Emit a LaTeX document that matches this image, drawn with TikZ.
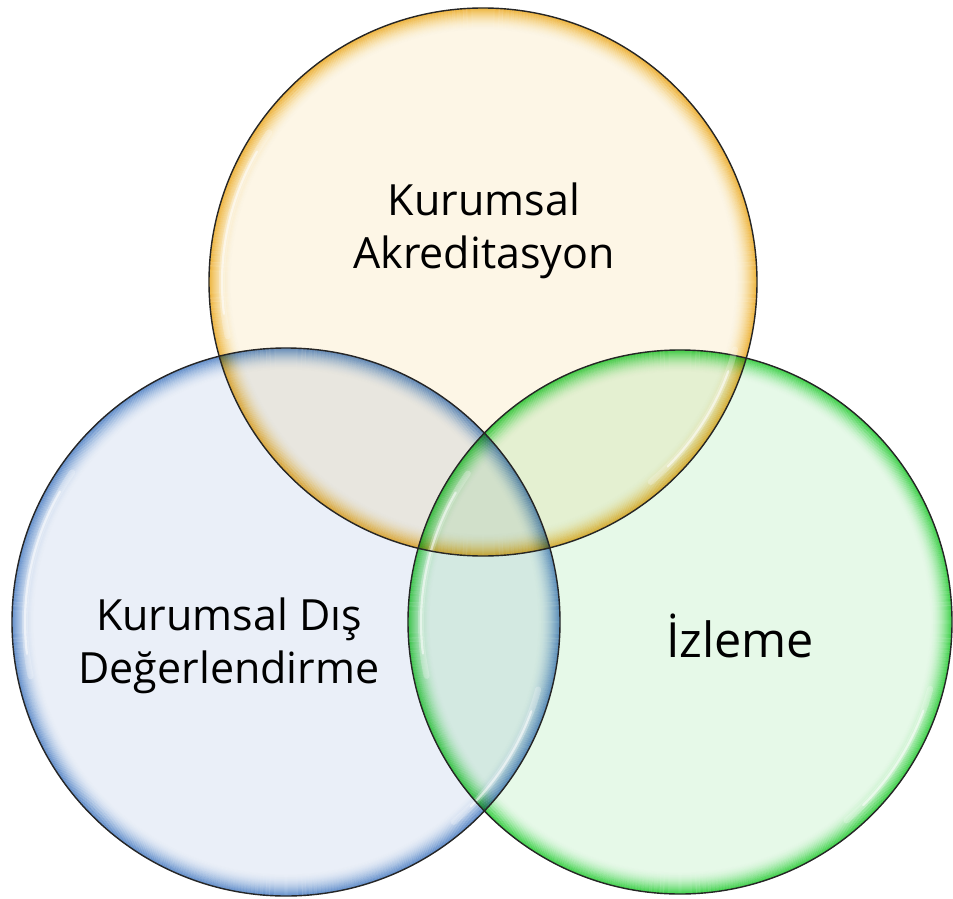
\documentclass[tikz,border=0pt]{standalone}
\usepackage{fontspec}
\setmainfont{Open Sans}
\definecolor{yfill}{RGB}{253,246,230}
\definecolor{yrim}{RGB}{242,190,55}
\definecolor{bfill}{RGB}{234,239,248}
\definecolor{brim}{RGB}{105,155,212}
\definecolor{gfill}{RGB}{230,249,232}
\definecolor{grim}{RGB}{60,218,75}
\newcommand\bubblefill[4]{%
  \fill[#4fill] (#1,#2) circle[radius=#3];
  \foreach \i in {1,...,22} {%
    \pgfmathsetmacro\op{0.92*(1-\i/23)^1.9}%
    \draw[#4rim, line width=1.2pt, draw opacity=\op] (#1,#2) circle[radius=#3-\i+0.6];
  }%
}
\newcommand\hlarc[5]{% cx cy r start end
  \draw[white, line width=6pt, draw opacity=0.25, line cap=round]
    ([shift={(#4:#3-13)}]#1,#2) arc[start angle=#4, end angle=#5, radius=#3-13];
  \draw[white, line width=2.2pt, draw opacity=0.55, line cap=round]
    ([shift={(#4+5:#3-13)}]#1,#2) arc[start angle=#4+5, end angle=#5-5, radius=#3-13];
}
\newcommand\bubbleline[3]{%
  \hlarc{#1}{#2}{#3}{168}{215}
  \hlarc{#1}{#2}{#3}{15}{50}
  \draw[black!85, line width=1.4pt] (#1,#2) circle[radius=#3];
}
\tikzset{lbl/.style={font=\fontsize{43}{53}\selectfont, anchor=base, inner sep=0pt, text=black}}
\begin{document}
\begin{tikzpicture}[x=1pt, y=-1pt]
  \useasboundingbox (0,0) rectangle (953,899);
  \begin{scope}[blend mode=multiply]
    \bubblefill{286}{622}{274}{b}
    \bubblefill{680}{622}{272}{g}
    \bubblefill{483}{282}{274}{y}
  \end{scope}
  \bubbleline{286}{622}{274}
  \bubbleline{680}{622}{272}
  \bubbleline{483}{282}{274}
  \node[lbl] (ka1) at (484,215) {Kurumsal};
  \node[lbl] (ka2) at (484,268) {Akreditasyon};
  \node[lbl] (kd1) at (229,630) {Kurumsal Dış};
  \node[lbl] (kd2) at (229,683) {Değerlendirme};
  \node[lbl, font=\fontsize{48.5}{56}\selectfont] (iz) at (740,657) {İzleme};
\end{tikzpicture}
\end{document}
